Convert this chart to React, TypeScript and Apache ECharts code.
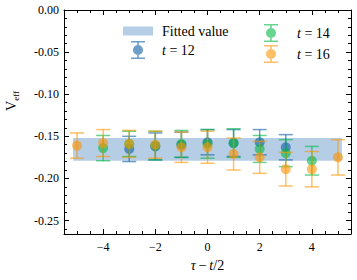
import React, { useEffect, useRef } from 'react';
import * as echarts from 'echarts';

// Data
const t12X = [-3, -2, -1, 0, 1, 2, 3];
const t12Y = [-0.165, -0.162, -0.16, -0.157, -0.158, -0.157, -0.163];
const t12Err = [0.015, 0.016, 0.015, 0.015, 0.016, 0.015, 0.015];

const t14X = [-4, -3, -2, -1, 0, 1, 2, 3, 4];
const t14Y = [-0.164, -0.159, -0.161, -0.159, -0.159, -0.158, -0.165, -0.17, -0.179];
const t14Err = [0.015, 0.015, 0.017, 0.016, 0.017, 0.017, 0.016, 0.016, 0.017];

const t16X = [-5, -4, -3, -2, -1, 0, 1, 2, 3, 4, 5];
const t16Y = [-0.161, -0.158, -0.159, -0.16, -0.163, -0.163, -0.171, -0.175, -0.189, -0.189, -0.175];
const t16Err = [0.015, 0.016, 0.016, 0.016, 0.018, 0.019, 0.019, 0.019, 0.02, 0.021, 0.021];

const fitRange = [-5.15, 5.15];
const fitBand = [-0.179, -0.152];

const xMajorTicks = [-4, -2, 0, 2, 4];
const xMinorTicks = [-5, -4.5, -3.5, -3, -2.5, -1.5, -1, -0.5, 0.5, 1, 1.5, 2.5, 3, 3.5, 4.5, 5];
const yMajorTicks = [-0.25, -0.2, -0.15, -0.1, -0.05, 0];
const yMinorTicks = [-0.26, -0.24, -0.23, -0.22, -0.21, -0.19, -0.18, -0.17, -0.16, -0.14, -0.13, -0.12, -0.11, -0.09, -0.08, -0.07, -0.06, -0.04, -0.03, -0.02, -0.01];

const X_MIN = -5.5;
const X_MAX = 5.5;
const Y_MIN = -0.266;
const Y_MAX = 0;

const BLUE = '#0C5DA5';
const GREEN = '#00B945';
const ORANGE = '#FF9500';
const BAND = '#b6cde6';
const ALPHA = 0.6;
const FONT = 'Liberation Serif';

const errIcon =
  'path://M1 0H15V1.6H1Z M1 16.4H15V18H1Z M7.2 0H8.8V18H7.2Z M3 9A5 5 0 1 1 13 9A5 5 0 1 1 3 9Z';
const rectIcon = 'path://M0 0H30V9H0Z';

function errSeries(name: string, xs: number[], ys: number[], es: number[], color: string) {
  return {
    type: 'custom',
    name,
    xAxisIndex: 0,
    yAxisIndex: 0,
    itemStyle: { color },
    encode: { x: 0, y: 1 },
    data: xs.map((x, i) => [x, ys[i], es[i]]),
    renderItem: (params: any, api: any) => {
      const x = api.value(0);
      const y = api.value(1);
      const e = api.value(2);
      const c = api.coord([x, y]);
      const hi = api.coord([x, y + e]);
      const lo = api.coord([x, y - e]);
      const cw = 7;
      const ls = { stroke: color, lineWidth: 1.5, opacity: ALPHA };
      return {
        type: 'group',
        children: [
          { type: 'line', shape: { x1: c[0], y1: hi[1], x2: c[0], y2: lo[1] }, style: ls },
          { type: 'line', shape: { x1: c[0] - cw, y1: hi[1], x2: c[0] + cw, y2: hi[1] }, style: ls },
          { type: 'line', shape: { x1: c[0] - cw, y1: lo[1], x2: c[0] + cw, y2: lo[1] }, style: ls },
          { type: 'circle', shape: { cx: c[0], cy: c[1], r: 5 }, style: { fill: color, opacity: ALPHA } },
        ],
      };
    },
  };
}

const legendFormatter = (name: string) => {
  if (name === 'Fitted value') return '{n|Fitted value}';
  const num = name.replace('t = ', '');
  return '{i|t}{n| = ' + num + '}';
};

const legendRich = {
  n: { fontFamily: FONT, fontSize: 14, color: '#000' },
  i: { fontFamily: FONT, fontSize: 14, fontStyle: 'italic', color: '#000' },
};

const baseX = (position: string, major: boolean, labels: boolean) => ({
  type: 'value',
  min: X_MIN,
  max: X_MAX,
  position,
  gridIndex: 0,
  axisLine: { show: major, onZero: false, lineStyle: { color: '#000', width: 1 } },
  axisTick: {
    show: true,
    inside: true,
    length: major ? 5 : 3,
    customValues: major ? xMajorTicks : xMinorTicks,
    lineStyle: { color: '#000', width: 1 },
  },
  axisLabel: labels
    ? {
        show: true,
        customValues: xMajorTicks,
        margin: 7,
        fontFamily: FONT,
        fontSize: 12,
        color: '#000',
        formatter: (v: number) => (v < 0 ? '\u2212' + Math.abs(v) : String(v)),
      }
    : { show: false },
  splitLine: { show: false },
  minorTick: { show: false },
});

const baseY = (position: string, major: boolean, labels: boolean) => ({
  type: 'value',
  min: Y_MIN,
  max: Y_MAX,
  position,
  gridIndex: 0,
  axisLine: { show: major, onZero: false, lineStyle: { color: '#000', width: 1 } },
  axisTick: {
    show: true,
    inside: true,
    length: major ? 5 : 3,
    customValues: major ? yMajorTicks : yMinorTicks,
    lineStyle: { color: '#000', width: 1 },
  },
  axisLabel: labels
    ? {
        show: true,
        customValues: yMajorTicks,
        margin: 5,
        fontFamily: FONT,
        fontSize: 12,
        color: '#000',
        formatter: (v: number) => v.toFixed(2),
      }
    : { show: false },
  splitLine: { show: false },
  minorTick: { show: false },
});

export default function App() {
  const ref = useRef<HTMLDivElement>(null);
  useEffect(() => {
    if (!ref.current) return;
    const chart = echarts.init(ref.current, null, { renderer: 'svg' });
    const xBottom: any = baseX('bottom', true, true);
    xBottom.name = '{i|\u03c4}{n|\u2009\u2212\u2009}{i|t}{n|/2}';
    xBottom.nameLocation = 'middle';
    xBottom.nameGap = 24;
    xBottom.nameTextStyle = {
      rich: {
        i: { fontFamily: FONT, fontSize: 14, fontStyle: 'italic', color: '#000' },
        n: { fontFamily: FONT, fontSize: 14, color: '#000' },
      },
    };
    const yLeft: any = baseY('left', true, true);
    yLeft.name = '{v|V}{s|eff}';
    yLeft.nameLocation = 'middle';
    yLeft.nameGap = 44;
    yLeft.nameRotate = 90;
    yLeft.nameTextStyle = {
      padding: [0, 0, 0, 42],
      rich: {
        v: { fontFamily: FONT, fontSize: 14, color: '#000', lineHeight: 18, verticalAlign: 'middle' },
        s: { fontFamily: FONT, fontSize: 9, color: '#000', lineHeight: 18, verticalAlign: 'bottom' },
      },
    };
    chart.setOption({
      animation: false,
      grid: { left: 64, right: 6, top: 10, bottom: 46, containLabel: false, outerBoundsMode: 'none' },
      xAxis: [xBottom, baseX('bottom', false, false), baseX('top', true, false), baseX('top', false, false)],
      yAxis: [yLeft, baseY('left', false, false), baseY('right', true, false), baseY('right', false, false)],
      legend: [
        {
          left: 118,
          top: 19,
          orient: 'vertical',
          itemWidth: 30,
          itemHeight: 18,
          itemGap: 3,
          selectedMode: false,
          formatter: legendFormatter,
          textStyle: { padding: [0, 0, 0, 4], rich: legendRich },
          data: [
            { name: 'Fitted value', icon: rectIcon, itemStyle: { color: BAND, opacity: 1 } },
            { name: 't = 12', icon: errIcon, itemStyle: { color: BLUE, opacity: ALPHA } },
          ],
        },
        {
          left: 259,
          top: 19,
          orient: 'vertical',
          itemWidth: 30,
          itemHeight: 18,
          itemGap: 3,
          selectedMode: false,
          formatter: legendFormatter,
          textStyle: { padding: [0, 0, 0, 6], rich: legendRich },
          data: [
            { name: 't = 14', icon: errIcon, itemStyle: { color: GREEN, opacity: ALPHA } },
            { name: 't = 16', icon: errIcon, itemStyle: { color: ORANGE, opacity: ALPHA } },
          ],
        },
      ],
      series: [
        {
          type: 'custom',
          name: 'Fitted value',
          xAxisIndex: 0,
          yAxisIndex: 0,
          itemStyle: { color: BAND },
          encode: { x: [0, 1], y: [2, 3] },
          data: [[fitRange[0], fitRange[1], fitBand[0], fitBand[1]]],
          renderItem: (params: any, api: any) => {
            const p1 = api.coord([api.value(0), api.value(3)]);
            const p2 = api.coord([api.value(1), api.value(2)]);
            return {
              type: 'rect',
              shape: { x: p1[0], y: p1[1], width: p2[0] - p1[0], height: p2[1] - p1[1] },
              style: { fill: BAND },
            };
          },
        },
        errSeries('t = 12', t12X, t12Y, t12Err, BLUE),
        errSeries('t = 14', t14X, t14Y, t14Err, GREEN),
        errSeries('t = 16', t16X, t16Y, t16Err, ORANGE),
      ],
    });
    return () => chart.dispose();
  }, []);
  return (
    <div
      ref={ref}
      style={{ position: 'fixed', left: 0, top: 0, width: 357, height: 280, background: '#fff' }}
    />
  );
}
